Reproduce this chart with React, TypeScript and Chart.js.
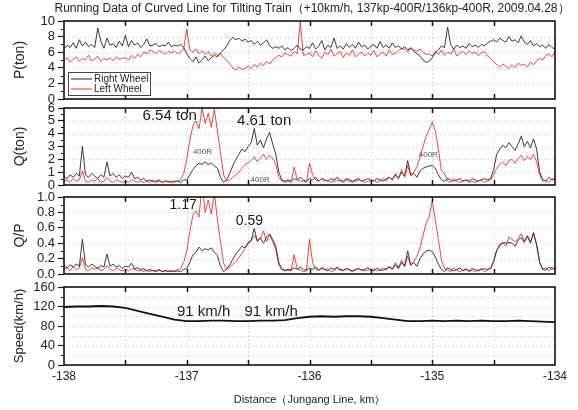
import React, { useEffect, useRef } from "react";
import { Chart, registerables } from "chart.js";

Chart.register(...registerables);

const W = 578;
const H = 410;
const FONT = "'Liberation Sans', Arial, Helvetica, sans-serif";
const PLOT_LEFT = 64;
const PLOT_RIGHT = 555;

const TITLE = "Running Data of Curved Line for Tilting Train（+10km/h, 137kp-400R/136kp-400R, 2009.04.28）";
const X_TITLE = "Distance（Jungang Line, km）";
const X_MIN = -138;
const X_MAX = -134;
const X_STEP = 0.5;

// sample grid of the wheel-load records (km)
const DIST_START = -138;
const DIST_STEP = 0.025;
// sample grid of the speed record (km)
const SPEED_START = -138;
const SPEED_STEP = 0.1;

const SERIES_NAMES = ["Right Wheel", "Left Wheel"];

// P (ton)
const P_RIGHT = [
  6.4, 6.9, 6.6, 7.2, 6.5, 7.6, 6.8, 7.3, 6.7, 7.0,
  6.6, 9.1, 7.4, 6.5, 7.8, 6.9, 7.1, 6.6, 7.4, 6.8,
  8.2, 6.7, 7.5, 6.9, 7.2, 6.6, 7.0, 7.7, 6.8, 6.9,
  7.1, 6.7, 6.9, 6.8, 7.3, 6.7, 6.9, 6.8, 7.0, 6.6,
  5.8, 5.2, 4.8, 5.4, 4.6, 5.0, 5.5, 4.9, 5.3, 5.6,
  5.4, 5.9, 6.3, 6.8, 7.5, 7.9, 7.6, 7.8, 7.4, 7.7,
  7.3, 7.5, 7.0, 7.4, 6.9, 7.2, 7.6, 6.8, 6.5, 6.7,
  6.5, 6.8, 6.3, 6.6, 6.2, 6.5, 6.9, 6.4, 6.3, 6.7,
  6.5, 7.2, 6.4, 6.8, 7.5, 6.3, 6.9, 6.6, 7.8, 6.5,
  6.8, 6.4, 7.1, 6.6, 7.0, 6.5, 7.3, 6.7, 6.9, 6.4,
  6.8, 7.0, 6.5, 7.4, 6.6, 6.9, 6.5, 7.2, 6.6, 6.8,
  6.4, 6.7, 6.3, 6.5, 6.1, 5.8, 5.5, 5.0, 4.7, 4.8,
  5.3, 5.9, 6.3, 6.8, 6.6, 9.2, 7.0, 6.4, 6.9, 6.6,
  6.8, 6.5, 7.1, 6.7, 6.9, 6.6, 7.0, 6.8, 7.2, 7.4,
  7.6, 7.3, 7.8, 7.5, 7.3, 8.0, 7.4, 7.6, 7.2, 8.1,
  7.3, 7.0, 7.5, 6.8, 7.1, 6.7, 6.9, 6.5, 7.0, 6.6, 6.4,
];
const P_LEFT = [
  4.9, 5.3, 4.7, 5.1, 5.4, 4.8, 5.2, 5.0, 5.6, 4.9,
  5.1, 5.5, 4.8, 5.2, 5.0, 5.3, 4.9, 5.4, 5.1, 5.2,
  5.3, 5.0, 5.6, 5.2, 5.7, 5.4, 6.0, 5.8, 6.3, 6.1,
  5.8, 6.2, 6.0, 5.7, 6.1, 5.9, 6.2, 5.8, 6.0, 6.4,
  9.0, 6.3, 6.0, 6.4, 5.8, 6.2, 5.7, 6.1, 5.5, 5.9,
  5.6, 5.8, 5.3, 5.0, 4.5, 4.0, 3.7, 4.1, 3.8, 3.9,
  4.2, 3.9, 4.4, 4.1, 4.6, 4.3, 4.8, 4.5, 5.0, 5.3,
  5.6, 5.4, 5.9, 5.7, 5.5, 6.1, 5.8, 9.9, 5.6, 5.7,
  5.9, 5.4, 6.2, 5.6, 5.2, 6.0, 5.7, 6.4, 5.5, 5.8,
  6.1, 5.3, 5.9, 5.6, 6.3, 5.4, 5.8, 6.0, 5.5, 5.9,
  5.6, 6.2, 5.4, 5.8, 6.0, 5.5, 6.3, 5.7, 5.9, 6.2,
  6.5, 6.4, 6.0, 6.6, 6.3, 6.1, 6.4, 6.0, 5.7, 5.8,
  5.5, 6.1, 5.7, 6.3, 5.6, 6.0, 5.8, 6.4, 5.5, 5.9,
  6.1, 5.7, 6.2, 5.8, 6.0, 5.6, 5.9, 6.1, 5.5, 5.2,
  4.8, 4.4, 4.1, 4.5, 4.2, 3.9, 4.4, 4.0, 4.6, 4.3,
  4.5, 4.1, 4.7, 4.4, 4.9, 5.2, 5.0, 5.6, 5.8, 5.4, 6.0,
];

// Q (ton)
const Q_RIGHT = [
  0.7, 0.5, 0.8, 0.6, 0.9, 0.7, 3.0, 0.8, 0.6, 0.9,
  0.7, 0.5, 0.8, 0.6, 1.8, 0.7, 0.9, 0.6, 0.8, 0.5,
  0.7, 0.6, 1.0, 0.5, 0.6, 0.4, 0.5, 0.3, 0.4, 0.3,
  0.3, 0.4, 0.2, 0.3, 0.3, 0.2, 0.3, 0.3, 0.2, 0.4,
  0.4, 0.8, 1.2, 1.5, 1.7, 1.6, 1.8, 1.6, 1.7, 1.5,
  1.3, 0.6, 0.2, 0.4, 0.9, 1.5, 2.0, 2.4, 2.8, 2.6,
  3.0, 3.3, 4.4, 3.1, 3.5, 2.9, 3.6, 4.1, 3.2, 2.4,
  1.0, 0.4, 0.3, 0.4, 0.3, 0.5, 0.4, 0.6, 0.4, 0.3,
  0.5, 0.4, 0.6, 0.3, 0.5, 0.4, 0.3, 0.5, 0.4, 0.6,
  0.4, 0.3, 0.5, 0.4, 0.3, 0.4, 0.5, 0.3, 0.4, 0.5,
  0.4, 0.3, 0.5, 0.4, 0.3, 0.5, 0.6, 0.4, 0.8, 0.5,
  1.0, 0.7, 1.9, 0.8, 0.9, 0.6, 1.1, 1.3, 1.4, 1.5,
  1.5, 1.3, 0.8, 0.4, 0.3, 0.5, 0.4, 0.3, 0.4, 0.5,
  0.3, 0.4, 0.3, 0.5, 0.4, 0.3, 0.4, 0.5, 0.4, 0.5,
  1.2, 2.4, 2.8, 3.1, 2.9, 3.3, 3.0, 2.7, 3.2, 3.8,
  3.0, 3.4, 2.9, 3.6, 2.8, 1.0, 0.4, 0.3, 0.6, 0.4, 0.5,
];
const Q_LEFT = [
  0.3, 0.4, 0.2, 0.5, 0.3, 0.4, 1.1, 0.3, 0.2, 0.4,
  0.3, 0.5, 0.2, 0.3, 0.6, 0.3, 0.2, 0.4, 0.3, 0.2,
  0.3, 0.2, 0.4, 0.3, 0.2, 0.3, 0.2, 0.3, 0.2, 0.3,
  0.2, 0.3, 0.2, 0.3, 0.2, 0.3, 0.2, 0.3, 0.4, 0.9,
  2.0, 3.5, 4.6, 5.0, 4.4, 6.0, 4.8, 5.6, 4.5, 5.9,
  4.2, 2.5, 0.8, 0.3, 0.4, 0.6, 0.8, 1.0, 1.3, 1.6,
  1.7, 1.9, 2.2, 1.8, 2.1, 2.4, 2.0, 2.3, 2.1, 1.6,
  0.6, 0.3, 0.2, 0.3, 0.2, 1.4, 0.4, 0.3, 0.3, 0.2,
  1.7, 0.8, 0.4, 0.3, 0.5, 0.3, 0.4, 0.2, 0.3, 0.4,
  0.3, 0.2, 0.4, 0.3, 0.2, 0.3, 0.4, 0.3, 0.2, 0.3,
  0.3, 0.4, 0.2, 0.3, 0.5, 0.3, 0.6, 0.4, 0.9, 0.5,
  1.2, 0.6, 1.5, 0.7, 1.0, 1.4, 2.2, 3.0, 3.8, 4.3,
  4.9, 4.2, 2.8, 1.1, 0.9, 0.3, 0.2, 0.5, 0.3, 0.2,
  0.3, 0.4, 0.2, 0.3, 0.2, 0.3, 0.4, 0.2, 0.3, 0.4,
  0.8, 1.3, 1.6, 1.8, 1.5, 1.9, 2.0, 1.7, 2.1, 2.3,
  1.9, 2.2, 2.0, 2.4, 1.8, 0.8, 0.3, 0.4, 0.2, 0.5, 0.3,
];

// Q/P
const QP_RIGHT = [
  0.11, 0.08, 0.12, 0.09, 0.13, 0.10, 0.45, 0.12, 0.09, 0.13,
  0.10, 0.07, 0.11, 0.09, 0.26, 0.10, 0.13, 0.09, 0.11, 0.07,
  0.10, 0.09, 0.14, 0.07, 0.08, 0.06, 0.07, 0.04, 0.06, 0.04,
  0.04, 0.06, 0.03, 0.04, 0.04, 0.03, 0.04, 0.04, 0.03, 0.06,
  0.07, 0.15, 0.25, 0.28, 0.35, 0.30, 0.33, 0.31, 0.34, 0.28,
  0.24, 0.10, 0.03, 0.06, 0.12, 0.19, 0.26, 0.31, 0.36, 0.34,
  0.41, 0.44, 0.59, 0.42, 0.47, 0.40, 0.48, 0.52, 0.45, 0.36,
  0.15, 0.06, 0.05, 0.06, 0.05, 0.08, 0.06, 0.09, 0.06, 0.05,
  0.08, 0.06, 0.09, 0.05, 0.07, 0.06, 0.04, 0.08, 0.06, 0.09,
  0.06, 0.05, 0.07, 0.06, 0.04, 0.06, 0.07, 0.05, 0.06, 0.08,
  0.06, 0.04, 0.08, 0.05, 0.05, 0.07, 0.09, 0.06, 0.12, 0.07,
  0.15, 0.10, 0.30, 0.12, 0.15, 0.10, 0.20, 0.26, 0.30, 0.31,
  0.29, 0.22, 0.13, 0.06, 0.03, 0.08, 0.06, 0.04, 0.06, 0.08,
  0.04, 0.06, 0.04, 0.07, 0.06, 0.04, 0.06, 0.07, 0.06, 0.07,
  0.16, 0.31, 0.36, 0.41, 0.40, 0.41, 0.40, 0.36, 0.44, 0.47,
  0.41, 0.49, 0.40, 0.53, 0.39, 0.15, 0.06, 0.05, 0.09, 0.06, 0.08,
];
const QP_LEFT = [
  0.06, 0.08, 0.04, 0.10, 0.06, 0.08, 0.21, 0.06, 0.04, 0.08,
  0.06, 0.09, 0.04, 0.06, 0.11, 0.06, 0.04, 0.07, 0.06, 0.04,
  0.06, 0.04, 0.07, 0.06, 0.04, 0.05, 0.03, 0.05, 0.03, 0.05,
  0.03, 0.05, 0.03, 0.05, 0.03, 0.05, 0.03, 0.05, 0.07, 0.15,
  0.30, 0.55, 0.76, 0.82, 0.74, 1.17, 0.80, 0.96, 0.78, 1.05,
  0.70, 0.42, 0.14, 0.06, 0.09, 0.13, 0.16, 0.21, 0.27, 0.33,
  0.39, 0.43, 0.50, 0.44, 0.46, 0.56, 0.42, 0.51, 0.42, 0.32,
  0.11, 0.06, 0.04, 0.05, 0.04, 0.25, 0.07, 0.05, 0.03, 0.04,
  0.45, 0.15, 0.07, 0.05, 0.09, 0.05, 0.07, 0.03, 0.05, 0.07,
  0.05, 0.04, 0.07, 0.05, 0.03, 0.05, 0.07, 0.05, 0.04, 0.05,
  0.05, 0.07, 0.04, 0.05, 0.08, 0.05, 0.10, 0.07, 0.15, 0.08,
  0.18, 0.10, 0.23, 0.11, 0.16, 0.23, 0.34, 0.50, 0.66, 0.74,
  0.95, 0.70, 0.45, 0.18, 0.07, 0.05, 0.03, 0.08, 0.05, 0.03,
  0.05, 0.07, 0.03, 0.05, 0.03, 0.05, 0.07, 0.03, 0.05, 0.08,
  0.17, 0.30, 0.39, 0.40, 0.36, 0.48, 0.45, 0.42, 0.46, 0.52,
  0.43, 0.50, 0.42, 0.54, 0.37, 0.16, 0.06, 0.08, 0.04, 0.09, 0.05,
];

// Speed (km/h)
const SPEED = [
  119, 120, 120, 121, 120, 117, 111, 105, 99, 93,
  90, 90, 91, 91, 90, 90, 91, 91, 92, 96,
  99, 100, 99, 100, 100, 99, 96, 93, 90, 90,
  91, 90, 91, 90, 91, 90, 90, 91, 90, 89, 88,
];

// annotations: [text, km, value, font size]
const Q_NOTES: [string, number, number, number][] = [
  ["6.54 ton", -137.36, 5.38, 15],
  ["4.61 ton", -136.59, 4.98, 15],
  ["400R", -136.95, 2.57, 8],
  ["400R", -136.48, 0.39, 8],
  ["400R", -135.11, 2.34, 8],
];
const QP_NOTES: [string, number, number, number][] = [
  ["1.17", -137.14, 0.9, 14],
  ["0.59", -136.6, 0.69, 14],
];
const SPEED_NOTES: [string, number, number, number][] = [
  ["91 km/h", -137.08, 108.5, 15],
  ["91 km/h", -136.53, 108.5, 15],
];

const BLACK = "#262626";
const RED = "rgba(238,22,22,0.9)";
const GRID = "rgba(165,175,205,0.4)";

type Panel = {
  top: number;
  bottom: number;
  min: number;
  max: number;
  step: number;
  title: string;
  titleSize: number;
  decimals: number;
  minorGrid: boolean;
  series: { label: string; values: number[]; start: number; step: number; color: string; width: number }[];
  notes: [string, number, number, number][];
  legend: boolean;
  header: boolean;
};

const PANELS: Panel[] = [
  {
    top: 21, bottom: 99, min: 0, max: 10, step: 2, title: "P(ton)", titleSize: 14, decimals: 0, minorGrid: false,
    series: [
      { label: SERIES_NAMES[0], values: P_RIGHT, start: DIST_START, step: DIST_STEP, color: BLACK, width: 0.9 },
      { label: SERIES_NAMES[1], values: P_LEFT, start: DIST_START, step: DIST_STEP, color: RED, width: 0.9 },
    ],
    notes: [], legend: true, header: true,
  },
  {
    top: 108, bottom: 185, min: 0, max: 6, step: 1, title: "Q(ton)", titleSize: 14, decimals: 0, minorGrid: false,
    series: [
      { label: SERIES_NAMES[1], values: Q_LEFT, start: DIST_START, step: DIST_STEP, color: RED, width: 0.9 },
      { label: SERIES_NAMES[0], values: Q_RIGHT, start: DIST_START, step: DIST_STEP, color: BLACK, width: 0.9 },
    ],
    notes: Q_NOTES, legend: false, header: false,
  },
  {
    top: 197, bottom: 274, min: 0, max: 1, step: 0.2, title: "Q/P", titleSize: 14, decimals: 1, minorGrid: false,
    series: [
      { label: SERIES_NAMES[0], values: QP_RIGHT, start: DIST_START, step: DIST_STEP, color: BLACK, width: 0.9 },
      { label: SERIES_NAMES[1], values: QP_LEFT, start: DIST_START, step: DIST_STEP, color: RED, width: 0.9 },
    ],
    notes: QP_NOTES, legend: false, header: false,
  },
  {
    top: 287, bottom: 365, min: 0, max: 160, step: 40, title: "Speed(km/h)", titleSize: 13, decimals: 0, minorGrid: true,
    series: [
      { label: "Speed", values: SPEED, start: SPEED_START, step: SPEED_STEP, color: "#111", width: 1.8 },
    ],
    notes: SPEED_NOTES, legend: false, header: false,
  },
];

function makeDecor(panel: Panel) {
  return {
    id: "panelDecor",
    beforeDatasetsDraw(chart: any) {
      const { ctx, chartArea: a, scales } = chart;
      const x = scales.x;
      const y = scales.y;
      ctx.save();
      ctx.strokeStyle = GRID;
      ctx.lineWidth = 1;
      ctx.setLineDash([2, 2]);
      x.ticks.forEach((t: any) => {
        if (t.value <= X_MIN || t.value >= X_MAX) return;
        const px = Math.round(x.getPixelForValue(t.value)) + 0.5;
        ctx.beginPath();
        ctx.moveTo(px, a.top);
        ctx.lineTo(px, a.bottom);
        ctx.stroke();
      });
      const yVals: number[] = [];
      y.ticks.forEach((t: any, i: number) => {
        yVals.push(t.value);
        if (panel.minorGrid && i < y.ticks.length - 1) yVals.push((t.value + y.ticks[i + 1].value) / 2);
      });
      yVals.forEach((v) => {
        if (v <= panel.min || v >= panel.max) return;
        const py = Math.round(y.getPixelForValue(v)) + 0.5;
        ctx.beginPath();
        ctx.moveTo(a.left, py);
        ctx.lineTo(a.right, py);
        ctx.stroke();
      });
      ctx.restore();
    },
    afterDatasetsDraw(chart: any) {
      const { ctx, chartArea: a, scales } = chart;
      const x = scales.x;
      const y = scales.y;
      ctx.save();
      ctx.setLineDash([]);
      ctx.strokeStyle = "#111";
      ctx.lineWidth = 1.6;
      ctx.strokeRect(a.left, a.top, a.right - a.left, a.bottom - a.top);
      ctx.lineWidth = 1.5;
      x.ticks.forEach((t: any) => {
        if (t.value <= X_MIN || t.value >= X_MAX) return;
        const px = Math.round(x.getPixelForValue(t.value)) + 0.5;
        ctx.beginPath();
        ctx.moveTo(px, a.bottom);
        ctx.lineTo(px, a.bottom - 5);
        ctx.moveTo(px, a.top);
        ctx.lineTo(px, a.top + 5);
        ctx.stroke();
      });
      ctx.lineWidth = 1;
      for (let i = 0; i < y.ticks.length - 1; i++) {
        const v = (y.ticks[i].value + y.ticks[i + 1].value) / 2;
        const py = Math.round(y.getPixelForValue(v)) + 0.5;
        ctx.beginPath();
        ctx.moveTo(a.left, py);
        ctx.lineTo(a.left - 3, py);
        ctx.stroke();
      }
      ctx.restore();
    },
    afterDraw(chart: any) {
      const { ctx, chartArea: a, scales } = chart;
      const x = scales.x;
      const y = scales.y;
      ctx.save();
      ctx.textAlign = "left";
      ctx.textBaseline = "middle";
      panel.notes.forEach(([text, kx, vy, size]) => {
        ctx.font = `${size}px ${FONT}`;
        ctx.fillStyle = size < 10 ? "#555" : "#1a1a1a";
        ctx.fillText(text, x.getPixelForValue(kx), y.getPixelForValue(vy));
      });
      if (panel.legend) {
        const bx = a.left + 4;
        const by = a.bottom - 27;
        const bw = 82;
        const bh = 23;
        ctx.fillStyle = "#fff";
        ctx.fillRect(bx, by, bw, bh);
        ctx.strokeStyle = "#444";
        ctx.lineWidth = 1;
        ctx.strokeRect(bx + 0.5, by + 0.5, bw, bh);
        ctx.font = `10px ${FONT}`;
        const ds = chart.data.datasets;
        ds.forEach((d: any, i: number) => {
          const ly = by + 7 + i * 10;
          ctx.strokeStyle = d.borderColor;
          ctx.lineWidth = 1;
          ctx.beginPath();
          ctx.moveTo(bx + 3, ly);
          ctx.lineTo(bx + 24, ly);
          ctx.stroke();
          ctx.fillStyle = "#222";
          ctx.fillText(d.label, bx + 26, ly + 0.5);
        });
      }
      if (panel.header) {
        ctx.font = `12px ${FONT}`;
        ctx.fillStyle = "#222";
        ctx.textAlign = "center";
        ctx.fillText(TITLE, 312, 9);
      }
      ctx.restore();
    },
  };
}

function buildChart(canvas: HTMLCanvasElement, panel: Panel, isLast: boolean) {
  const datasets = panel.series.map((s) => ({
    label: s.label,
    data: s.values.map((v, i) => ({ x: s.start + i * s.step, y: v })),
    borderColor: s.color,
    borderWidth: s.width,
    pointRadius: 0,
    tension: 0,
    fill: false,
  }));
  return new Chart(canvas, {
    type: "line",
    data: { datasets },
    options: {
      animation: false,
      responsive: false,
      devicePixelRatio: 1,
      layout: {
        padding: { left: 0, right: W - PLOT_RIGHT, top: panel.top, bottom: isLast ? 0 : H - panel.bottom },
      },
      plugins: { legend: { display: false }, tooltip: { enabled: false }, title: { display: false } },
      scales: {
        x: {
          type: "linear",
          min: X_MIN,
          max: X_MAX,
          ticks: {
            display: isLast,
            stepSize: X_STEP,
            autoSkip: false,
            maxRotation: 0,
            padding: 4,
            color: "#222",
            font: { family: FONT, size: 12 },
            callback: (v: any) => (Number.isInteger(v) ? String(v) : ""),
          },
          grid: { drawOnChartArea: false, drawTicks: false },
          border: { display: false },
          title: {
            display: isLast,
            text: X_TITLE,
            color: "#222",
            font: { family: FONT, size: 11 },
            padding: { top: 0, bottom: 3 },
          },
          afterFit: (s: any) => {
            s.height = isLast ? H - panel.bottom : 0;
          },
        },
        y: {
          min: panel.min,
          max: panel.max,
          ticks: {
            stepSize: panel.step,
            autoSkip: false,
            padding: 3,
            color: "#222",
            font: { family: FONT, size: 13 },
            callback: (v: any) => Number(v).toFixed(panel.decimals),
          },
          grid: { drawOnChartArea: false, drawTicks: true, tickLength: 6, tickColor: "#111", tickWidth: 1.2 },
          border: { display: false },
          title: {
            display: true,
            text: panel.title,
            color: "#222",
            font: { family: FONT, size: panel.titleSize },
            padding: { top: 12, bottom: 0 },
          },
          afterFit: (s: any) => {
            s.width = PLOT_LEFT;
          },
        },
      },
    } as any,
    plugins: [makeDecor(panel)],
  });
}

export default function App() {
  const canvases = useRef<(HTMLCanvasElement | null)[]>([]);
  useEffect(() => {
    const charts = PANELS.map((p, i) => buildChart(canvases.current[i]!, p, i === PANELS.length - 1));
    return () => charts.forEach((c) => c.destroy());
  }, []);
  return (
    <div style={{ position: "absolute", left: 0, top: 0, width: W, height: H, background: "#fff" }}>
      {PANELS.map((_, i) => (
        <canvas
          key={i}
          ref={(el) => {
            canvases.current[i] = el;
          }}
          width={W}
          height={H}
          style={{ position: "absolute", left: 0, top: 0, width: W, height: H }}
        />
      ))}
    </div>
  );
}
